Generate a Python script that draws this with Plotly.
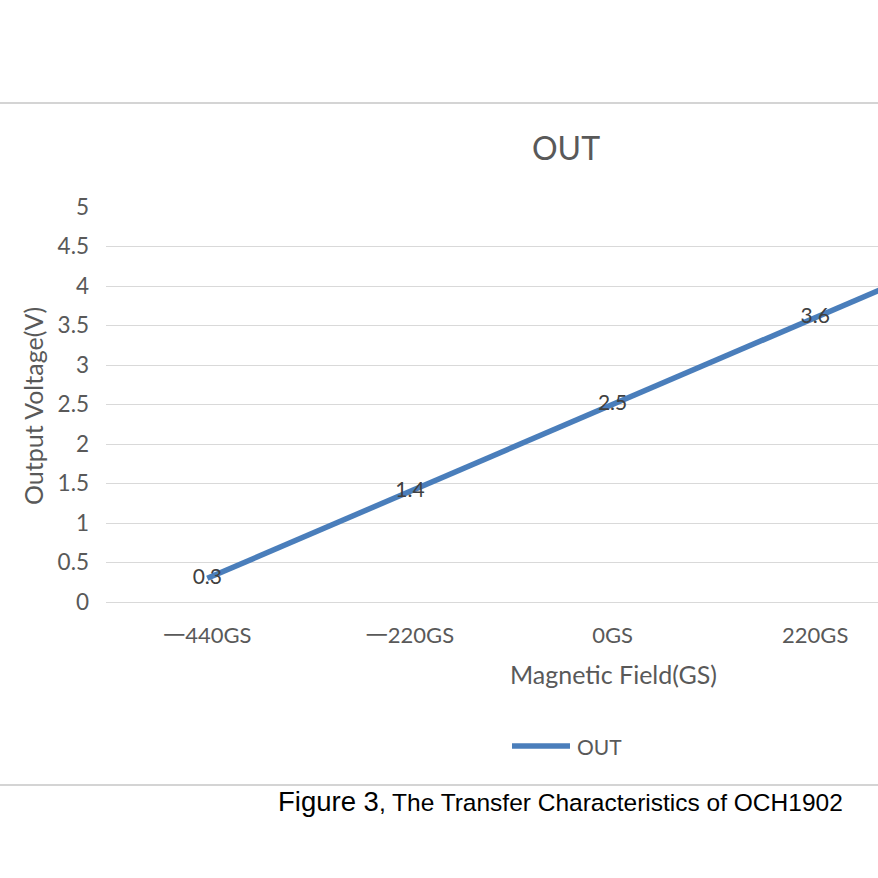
import plotly.graph_objects as go

categories = ["一440GS", "一220GS", "0GS", "220GS", "440GS"]
out_values = [0.3, 1.4, 2.5, 3.6, 4.7]
y_ticks = [0, 0.5, 1, 1.5, 2, 2.5, 3, 3.5, 4, 4.5, 5]
y_ticklabels = ["0", "0.5", "1", "1.5", "2", "2.5", "3", "3.5", "4", "4.5", "5"]

W, H = 878, 878
ML, MR, MT, MB = 106, 0, 207, 276
pw, ph = W - ML - MR, H - MT - MB

def px(x):
    return (x - ML) / pw

def py(y):
    return (H - MB - y) / ph

LINE = "#4a7ebb"
FONT = "Lato, 'Noto Sans CJK SC', sans-serif"
GRAY = "#595959"

fig = go.Figure()
fig.add_trace(go.Scatter(
    x=categories, y=out_values, mode="lines+text", name="OUT",
    line=dict(color=LINE, width=5.5),
    text=[str(v) for v in out_values], textposition="middle center",
    textfont=dict(family=FONT, size=21, color="#404040"),
    cliponaxis=True,
))

fig.update_layout(
    width=W, height=H,
    margin=dict(l=ML, r=MR, t=MT, b=MB, pad=0),
    paper_bgcolor="white", plot_bgcolor="white",
    font=dict(family=FONT, color=GRAY),
    showlegend=False,
    xaxis=dict(type="category", categoryorder="array", categoryarray=categories,
               range=[-0.5, 3.31], showgrid=False, showline=False, zeroline=False,
               ticks="", tickfont=dict(size=22, color=GRAY), ticklabelstandoff=18),
    yaxis=dict(range=[0, 5], tickvals=y_ticks, ticktext=y_ticklabels,
               showgrid=True, gridcolor="#d9d9d9", gridwidth=1.3,
               zeroline=True, zerolinecolor="#d9d9d9", zerolinewidth=1.3,
               showline=False, ticks="", tickfont=dict(size=22.5, color=GRAY),
               ticklabelstandoff=16),
)

def ann(text, x, y, size, color=GRAY, family=FONT, xanchor="center", angle=0):
    fig.add_annotation(text=text, x=px(x), y=py(y), xref="paper", yref="paper",
                       xanchor=xanchor, yanchor="middle", textangle=angle,
                       showarrow=False, font=dict(family=family, size=size, color=color))

ann("OUT", 566, 147, 32)
ann("Magnetic Field(GS)", 613, 674, 25)
ann("Output Voltage(V)", 33, 406, 25, angle=-90)
# legend
fig.add_shape(type="line", x0=px(512), x1=px(570), y0=py(746), y1=py(746),
              xref="paper", yref="paper", line=dict(color=LINE, width=5.5))
ann("OUT", 575, 746, 21, xanchor="left")
# frame rules
for yy in (103, 785):
    fig.add_shape(type="line", x0=px(0), x1=px(878), y0=py(yy), y1=py(yy),
                  xref="paper", yref="paper", line=dict(color="#d4d4d4", width=2))
# caption
ann("Figure 3<span style='font-size:24.5px'>, The Transfer Characteristics of OCH1902</span>",
    845, 801, 27.5, color="black", family="Liberation Sans, Arial, sans-serif", xanchor="right")

fig.write_html("out.html")
